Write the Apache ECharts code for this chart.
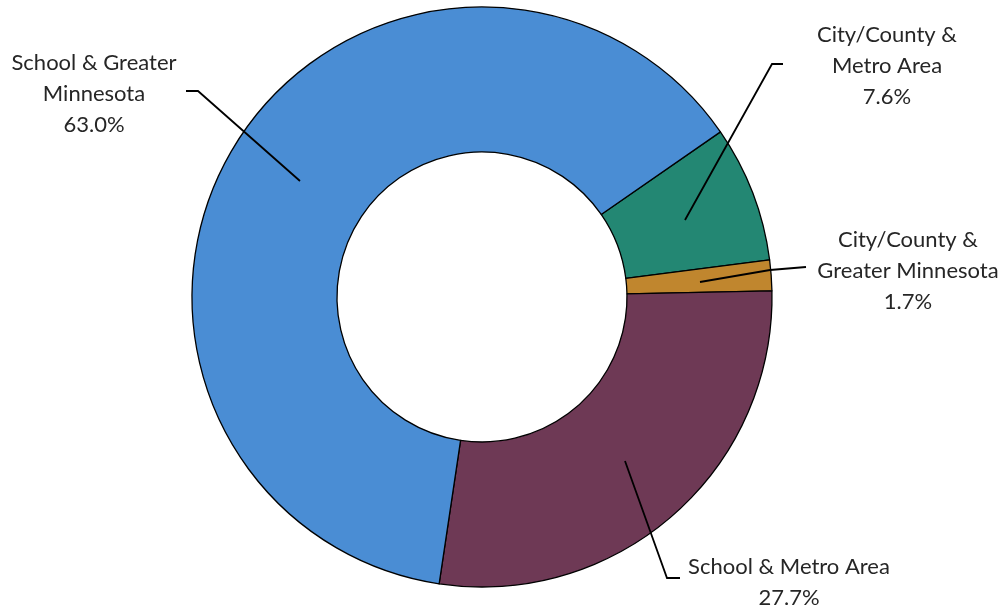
<!DOCTYPE html>
<html>
<head>
<meta charset="utf-8">
<script src="https://cdn.jsdelivr.net/npm/echarts@6/dist/echarts.min.js"></script>
<style>
  html, body { margin: 0; padding: 0; background: #fff; }
  #chart { width: 1006px; height: 609px; }
</style>
</head>
<body>
<div id="chart"></div>
<script>
// Data
const categories = [
  'City/County &\nMetro Area',
  'City/County &\nGreater Minnesota',
  'School & Metro Area',
  'School & Greater\nMinnesota'
];
const shares = [7.6, 1.7, 27.7, 63.0];
const sliceColors = ['#238773', '#C0862E', '#6E3955', '#4A8DD4'];

// Label anchor positions (layout only)
const labelAnchors = [
  { x: 887, y: 66, line: [[685, 220], [772, 64], [783, 64]] },
  { x: 908, y: 271, line: [[700, 282], [770, 270], [806, 267]] },
  { x: 789, y: 582, line: [[625, 461], [667, 578], [680, 578]] },
  { x: 94, y: 94, line: [[300, 181], [198, 91], [186, 91]] }
];

const chart = echarts.init(document.getElementById('chart'), null, { renderer: 'canvas' });

const sliceData = categories.map((name, i) => ({
  name: name,
  value: shares[i],
  itemStyle: { color: sliceColors[i] }
}));
const labelData = categories.map((name, i) => ({ name: name, value: shares[i] }));

const common = {
  type: 'pie',
  center: [482, 297],
  radius: [145, 290],
  startAngle: 34.7,
  clockwise: true,
  avoidLabelOverlap: false,
  emphasis: { disabled: true }
};

chart.setOption({
  animation: false,
  backgroundColor: '#ffffff',
  series: [
    Object.assign({}, common, {
      z: 2,
      data: sliceData,
      itemStyle: { borderColor: '#000000', borderWidth: 1.3 },
      label: { show: false },
      labelLine: { show: false }
    }),
    Object.assign({}, common, {
      z: 5,
      silent: true,
      data: labelData,
      itemStyle: { color: 'rgba(0,0,0,0)', borderWidth: 0 },
      label: {
        show: true,
        position: 'outside',
        formatter: p => p.name + '\n' + p.value.toFixed(1) + '%',
        fontFamily: 'Lato, "Open Sans", sans-serif',
        fontSize: 22,
        lineHeight: 31,
        color: '#262626',
        align: 'center'
      },
      labelLine: {
        show: true,
        lineStyle: { color: '#000000', width: 1.8 }
      },
      labelLayout: function (params) {
        const a = labelAnchors[params.dataIndex];
        return {
          x: a.x,
          y: a.y,
          align: 'center',
          verticalAlign: 'middle',
          labelLinePoints: a.line
        };
      }
    })
  ]
});
</script>
</body>
</html>
